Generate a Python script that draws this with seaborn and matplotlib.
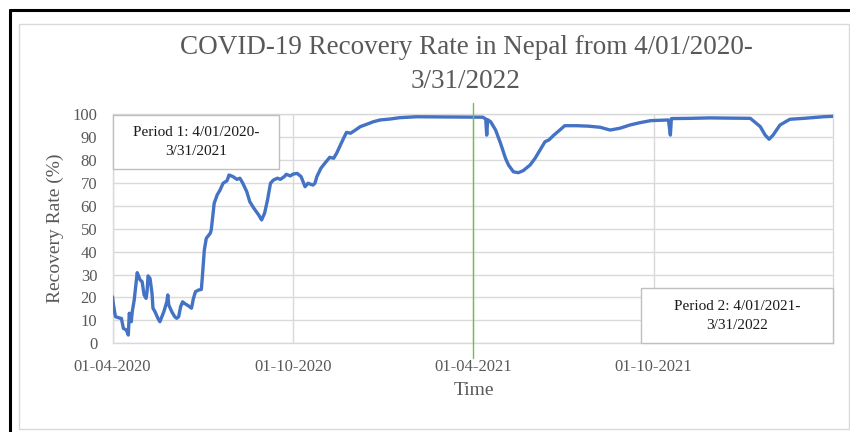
import matplotlib
matplotlib.use("Agg")
import matplotlib.pyplot as plt
import matplotlib.dates as mdates
from matplotlib.patches import Rectangle
from matplotlib.lines import Line2D
import numpy as np
import pandas as pd
import seaborn as sns

# Daily COVID-19 recovery rate in Nepal (days since the start date, rate in %)
start_date = "2020-04-01"
day_offset = [
    0, 1, 3, 8, 9, 11, 14, 16, 17, 19, 20, 22, 25, 26, 28, 30, 32, 34, 35, 36,
    38, 40, 41, 43, 46, 48, 50, 52, 55, 56, 57, 60, 63, 65, 67, 69, 71, 73, 77, 80,
    82, 84, 87, 90, 91, 93, 95, 99, 100, 102, 103, 106, 109, 112, 116, 118, 122, 126, 129, 132,
    136, 139, 143, 148, 151, 154, 157, 160, 163, 167, 170, 174, 176, 180, 183, 187, 191, 193, 195, 198,
    203, 205, 207, 211, 215, 220, 224, 227, 230, 234, 237, 241, 246, 251, 258, 264, 271, 281, 291, 308,
    340, 375, 378, 379, 380, 383, 388, 393, 398, 401, 406, 411, 416, 423, 428, 433, 438, 442, 447, 453,
    458, 470, 482, 494, 504, 514, 524, 534, 545, 563, 565, 566, 585, 605, 646, 656, 661, 665, 669, 676,
    686, 700, 720, 730,
]
recovery_rate = [
    20.3, 16.7, 11.6, 10.9, 10.9, 6.5, 5.8, 3.6, 13.1, 9.4, 13.8, 18.9, 30.8, 29.8, 27.6, 26.9, 21.1, 19.6, 22.5, 29.4,
    28.3, 21.8, 15.3, 13.8, 10.9, 9.4, 11.6, 13.8, 18.1, 21.1, 16.7, 13.8, 11.6, 10.9, 11.6, 16.0, 18.1, 17.4, 16.3, 15.3,
    19.6, 22.5, 23.2, 23.5, 29.0, 40.7, 45.8, 48.0, 49.4, 57.4, 61.1, 64.7, 66.9, 69.8, 70.9, 73.4, 72.7, 71.5, 72.0, 69.8,
    66.1, 61.8, 59.0, 56.0, 53.8, 56.7, 62.5, 69.8, 71.2, 72.0, 71.5, 72.7, 73.7, 73.0, 73.8, 74.1, 72.7, 70.5, 68.3, 69.8,
    69.0, 69.8, 72.7, 76.3, 78.5, 81.1, 80.7, 82.9, 85.7, 89.4, 92.0, 91.6, 93.0, 94.5, 95.6, 96.6, 97.4, 97.8, 98.4, 98.8,
    98.7, 98.6, 97.8, 90.8, 97.5, 96.6, 93.0, 87.2, 80.7, 77.8, 74.8, 74.4, 75.3, 77.8, 80.7, 84.3, 87.9, 88.7, 90.8, 93.0,
    94.9, 94.9, 94.7, 94.2, 93.0, 93.8, 95.2, 96.2, 97.1, 97.4, 90.8, 98.0, 98.1, 98.3, 98.1, 94.5, 90.8, 89.0, 90.8, 95.2,
    97.7, 98.1, 98.8, 99.0,
]

x_ticks = ["2020-04-01", "2020-10-01", "2021-04-01", "2021-10-01"]
y_ticks = list(range(0, 101, 10))
period_split = "2021-04-01"
x_end = "2022-04-01"

title = "COVID-19 Recovery Rate in Nepal from 4/01/2020-\n3/31/2022"
period1_text = "Period 1: 4/01/2020-\n3/31/2021"
period2_text = "Period 2: 4/01/2021-\n3/31/2022"

df = pd.DataFrame({
    "Time": pd.Timestamp(start_date) + pd.to_timedelta(day_offset, unit="D"),
    "Recovery Rate (%)": recovery_rate,
})

sns.set_theme(style="white")
plt.rcParams["font.family"] = ["Liberation Serif", "DejaVu Serif"]

W, H = 850, 432
fig = plt.figure(figsize=(W / 100, H / 100), dpi=100)
fig.patch.set_facecolor("white")

ax_l, ax_r, ax_t, ax_b = 112.5, 833.3, 114.0, 343.3
ax = fig.add_axes([ax_l / W, 1 - ax_b / H, (ax_r - ax_l) / W, (ax_b - ax_t) / H])

grid_c = "#d9d9d9"
text_c = "#595959"

sns.lineplot(data=df, x="Time", y="Recovery Rate (%)", ax=ax,
             color="#4472C4", linewidth=2.4, zorder=3)

ax.set_xlim(pd.Timestamp(start_date), pd.Timestamp(x_end))
ax.set_ylim(0, 100)
ax.set_yticks(y_ticks)
ax.set_xticks([pd.Timestamp(t) for t in x_ticks])
ax.xaxis.set_major_formatter(mdates.DateFormatter("%d-%m-%Y"))
ax.grid(True, color=grid_c, linewidth=1.0)
for s in ax.spines.values():
    s.set_color(grid_c)
    s.set_linewidth(1.0)
ax.tick_params(axis="both", length=0, labelsize=12, labelcolor=text_c)
ax.tick_params(axis="x", pad=11)
ax.tick_params(axis="y", pad=11)

ax.set_ylabel("Recovery Rate (%)", fontsize=14, color=text_c)
ax.yaxis.set_label_coords(-0.0795, 0.5)
ax.yaxis.label.set_va("center")
ax.set_xlabel("Time", fontsize=14, color=text_c)
ax.xaxis.set_label_coords(0.5015, -0.206)
ax.xaxis.label.set_va("center")

# Divider between the two periods
ax.axvline(pd.Timestamp(period_split), ymin=-0.064, ymax=1.048, color="#72BF44",
           linewidth=1.0, clip_on=False, zorder=4)

# Period boxes
box_kw = dict(transform=ax.transAxes, facecolor="white", edgecolor="#bfbfbf",
              linewidth=1.0, zorder=5, clip_on=False)
ax.add_patch(Rectangle((0.0, 0.760), 0.231, 0.236, **box_kw))
ax.text(0.1155, 0.878, period1_text, transform=ax.transAxes, ha="center", va="center",
        fontsize=11, color="#1a1a1a", linespacing=1.55, zorder=6)
ax.add_patch(Rectangle((0.733, 0.0), 0.267, 0.241, **box_kw))
ax.text(0.8665, 0.12, period2_text, transform=ax.transAxes, ha="center", va="center",
        fontsize=11, color="#1a1a1a", linespacing=1.55, zorder=6)

fig.text(466 / W, 1 - 64.5 / H, title, ha="center", va="center",
         fontsize=19.5, color=text_c, linespacing=1.5)

# Chart frame: light inner border and dark outer edge
fig.add_artist(Rectangle((19 / W, 1 - 429 / H), (849 - 19) / W, (429 - 24) / H,
                         transform=fig.transFigure, facecolor="none",
                         edgecolor="#d9d9d9", linewidth=1.0))
fig.add_artist(Line2D([9.5 / W, 1.0], [1 - 9.5 / H, 1 - 9.5 / H],
                      transform=fig.transFigure, color="black", linewidth=2.2))
fig.add_artist(Line2D([9.5 / W, 9.5 / W], [0.0, 1 - 9.5 / H],
                      transform=fig.transFigure, color="black", linewidth=2.2))

fig.savefig("out.png", dpi=100)
